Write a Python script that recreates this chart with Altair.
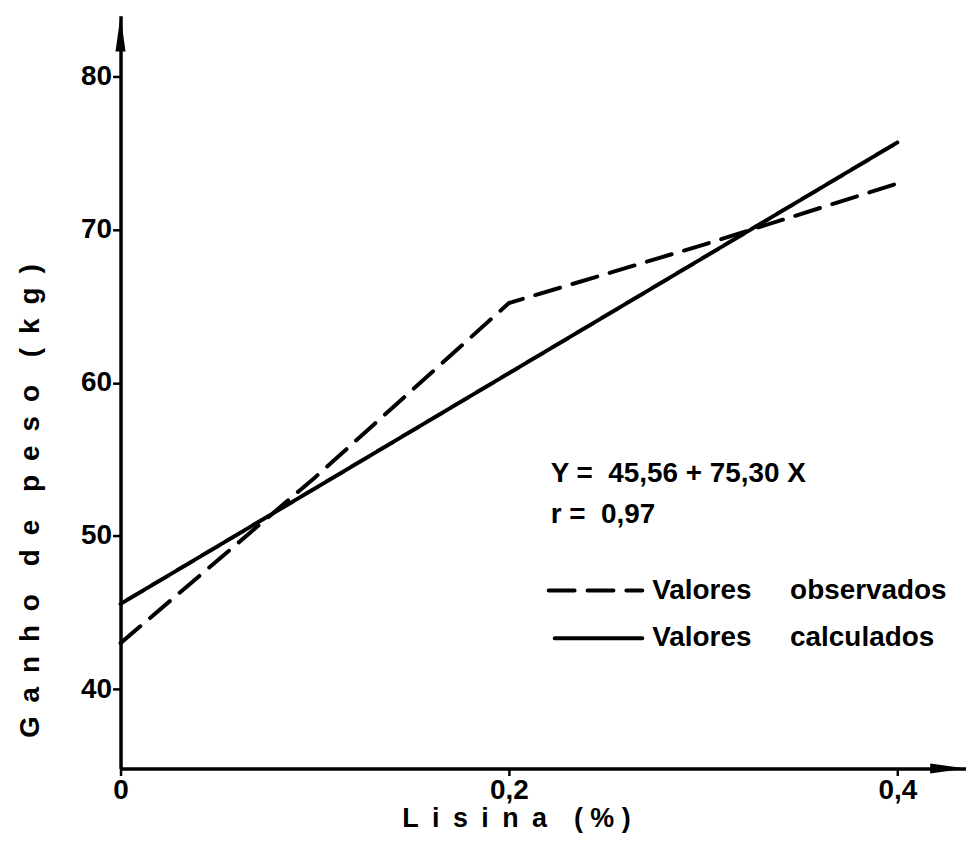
import altair as alt
import pandas as pd

# ---- data ----
lisina_obs = [0.0, 0.1, 0.2, 0.3, 0.4]
ganho_obs = [43.0, 53.8, 65.2, 69.0, 73.0]
lisina_calc = [0.0, 0.4]
ganho_calc = [45.56, 75.68]
series = ["Valores observados", "Valores calculados"]
x_ticks = [0, 0.2, 0.4]
y_ticks = [40, 50, 60, 70, 80]
x_domain = [0, 0.4354]
y_domain = [34.81, 83.96]
equation_lines = ["Y =\u00a0\u00a045,56 + 75,30 X", "r =\u00a0\u00a00,97"]

NB = "\u00a0"
EN = "\u2002"
FONT = "Liberation Sans"

y_title = (EN * 2).join(EN.join(list(w)) for w in ["Ganho", "de", "peso", "(kg)"])
x_title = EN.join(list("Lisina")) + EN * 2 + NB.join(list("(%)"))

lines_df = pd.DataFrame(
    {
        "x": lisina_obs + lisina_calc,
        "y": ganho_obs + ganho_calc,
        "serie": [series[0]] * len(lisina_obs) + [series[1]] * len(lisina_calc),
    }
)

# annotation anchors (data units)
eq_df = pd.DataFrame({"x": [0.2215, 0.2215], "y": [54.03, 51.36], "t": equation_lines})
leg_df = pd.DataFrame(
    {
        "x": [0.2205, 0.2236],
        "x2": [0.2687, 0.2687],
        "y": [46.43, 43.31],
        "tx": [0.2738, 0.2738],
        "serie": series,
        "label": [s.replace(" ", NB * 5) for s in series],
    }
)
arrow_up_df = pd.DataFrame({"x": [0.0], "y": [82.79]})
arrow_right_df = pd.DataFrame({"x": [0.4262], "y": [y_domain[0]]})

xs = alt.Scale(domain=x_domain, nice=False, zero=False)
ys = alt.Scale(domain=y_domain, nice=False, zero=False)

x_axis = alt.Axis(
    values=x_ticks,
    labelExpr="datum.value == 0 ? '0' : replace(format(datum.value, '.1f'), '.', ',')",
    title=x_title,
    titleX=397,
    titleY=50,
    titleBaseline="middle",
    titleFontSize=27,
    titleFontWeight="bold",
    titleFont=FONT,
    labelFont=FONT,
    labelFontSize=28,
    labelFontWeight="bold",
    labelColor="black",
    labelPadding=1,
    tickSize=7,
    tickWidth=2.5,
    tickColor="black",
    domainColor="black",
    domainWidth=3.5,
    grid=False,
    labelFlush=False,
)
y_axis = alt.Axis(
    values=y_ticks,
    title=y_title,
    titleX=-90,
    titleY=487,
    titleAngle=-90,
    titleAlign="center",
    titleBaseline="middle",
    titleFontSize=28,
    titleFontWeight="bold",
    titleFont=FONT,
    labelFont=FONT,
    labelFontSize=28,
    labelFontWeight="bold",
    labelColor="black",
    labelPadding=1,
    tickSize=8,
    tickWidth=2.5,
    tickColor="black",
    domainColor="black",
    domainWidth=3.5,
    grid=False,
)

dash_scale = alt.Scale(domain=series, range=[[26, 13], [1, 0]])

lines = (
    alt.Chart(lines_df)
    .mark_line(color="black", strokeWidth=4, strokeCap="round")
    .encode(
        x=alt.X("x:Q", scale=xs, axis=x_axis),
        y=alt.Y("y:Q", scale=ys, axis=y_axis),
        strokeDash=alt.StrokeDash("serie:N", scale=dash_scale, legend=None),
        detail="serie:N",
    )
)

eq = (
    alt.Chart(eq_df)
    .mark_text(align="left", baseline="middle", font=FONT, fontSize=28, fontWeight="bold", color="black")
    .encode(x=alt.X("x:Q", scale=xs), y=alt.Y("y:Q", scale=ys), text="t:N")
)

leg_rules = (
    alt.Chart(leg_df)
    .mark_rule(color="black", strokeWidth=4, strokeCap="round")
    .encode(
        x=alt.X("x:Q", scale=xs),
        x2="x2:Q",
        y=alt.Y("y:Q", scale=ys),
        strokeDash=alt.StrokeDash("serie:N", scale=dash_scale, legend=None),
    )
)
leg_text = (
    alt.Chart(leg_df)
    .mark_text(align="left", baseline="middle", font=FONT, fontSize=28, fontWeight="bold", color="black")
    .encode(x=alt.X("tx:Q", scale=xs), y=alt.Y("y:Q", scale=ys), text="label:N")
)

arrow_up = (
    alt.Chart(arrow_up_df)
    .mark_point(shape="M0,-1L0.28,1L-0.28,1Z", filled=True, color="black", opacity=1, size=1300)
    .encode(x=alt.X("x:Q", scale=xs), y=alt.Y("y:Q", scale=ys))
)
arrow_right = (
    alt.Chart(arrow_right_df)
    .mark_point(shape="M1,0L-1,0.28L-1,-0.28Z", filled=True, color="black", opacity=1, size=1300)
    .encode(x=alt.X("x:Q", scale=xs), y=alt.Y("y:Q", scale=ys))
)

chart = (
    alt.layer(lines, eq, leg_rules, leg_text, arrow_up, arrow_right)
    .properties(
        width=849,
        height=756,
        autosize=alt.AutoSizeParams(type="none"),
        padding={"left": 113, "top": 6, "right": 0, "bottom": 70},
        background="white",
    )
    .configure_view(stroke=None)
)

chart.save("out.html", embed_options={"renderer": "svg", "actions": False})
